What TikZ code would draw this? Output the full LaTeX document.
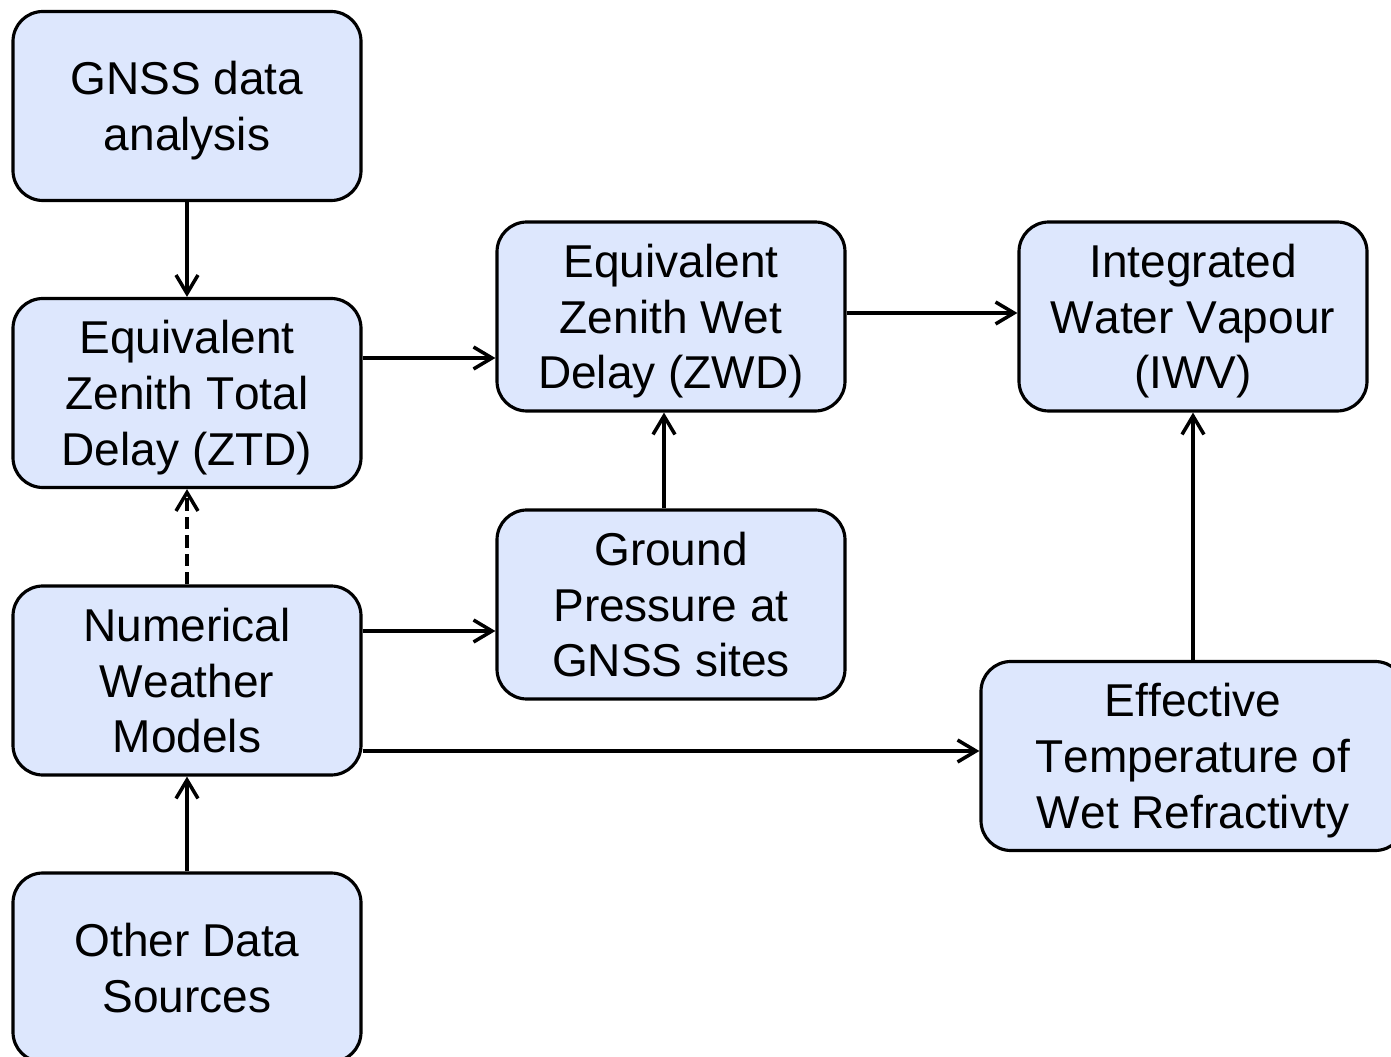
\documentclass[tikz,border=0pt]{standalone}
\usepackage{fontspec}
\setmainfont{Liberation Sans}[Kerning=Off]
\usetikzlibrary{arrows.meta}

\definecolor{BOXFILL}{HTML}{DDE7FD}

\begin{document}
\begin{tikzpicture}[
        box/.style={draw=black, line width=1.8pt, fill=BOXFILL, rounded corners=17pt,
            minimum width=6.96cm, minimum height=3.78cm, align=center,
            font=\fontsize{26.2}{31.7}\selectfont,
            text depth=0pt}, % descenders should not lift the text
        flow/.style={line width=2pt, -{Straight Barb[length=10.5pt, width=12.5pt]}}
    ]
            \useasboundingbox (0,0) rectangle (27.82,-21.14);

            % left column
            \node[box] (gnss) at (3.74,-2.12) {GNSS data\\analysis};
            \node[box] (ztd) at (3.74,-7.86) {Equivalent\\Zenith Total\\Delay (ZTD)};
            \node[box] (nwm) at (3.74,-13.61) {Numerical\\Weather\\Models};
            \node[box] (other) at (3.74,-19.35) {Other Data\\Sources};

            % middle and right columns
            \node[box] (zwd) at (13.42,-6.33) {Equivalent\\Zenith Wet\\Delay (ZWD)};
            \node[box] (pres) at (13.42,-12.09) {Ground\\Pressure at\\GNSS sites};
            \node[box] (iwv) at (23.86,-6.33) {Integrated\\Water Vapour\\(IWV)};
            \node[box, minimum width=8.48cm] (tm) at (23.86,-15.12) {Effective\\Temperature of\\Wet Refractivty};

            % side exits off the box centres
            \path (ztd.east) ++(0,0.7) coordinate (ztdout);
            \path (zwd.east) ++(0,0.07) coordinate (zwdout);
            \path (nwm.east) ++(0,0.99) coordinate (nwmup);
            \path (nwm.east) ++(0,-1.41) coordinate (nwmdown);

            \draw[flow] (gnss) -- (ztd);
            \draw[flow, dash pattern=on 7pt off 3.5pt] (nwm) -- (ztd);
            \draw[flow] (other) -- (nwm);
            \draw[flow] (ztdout) -- (ztdout -| zwd.west);
            \draw[flow] (nwmup) -- (nwmup -| pres.west);
            \draw[flow] (nwmdown) -- (nwmdown -| tm.west);
            \draw[flow] ([xshift=-0.14cm]pres.north) -- ([xshift=-0.14cm]zwd.south);
            \draw[flow] (zwdout) -- (zwdout -| iwv.west);
            \draw[flow] (tm) -- (iwv);
        \end{tikzpicture}
\end{document}
